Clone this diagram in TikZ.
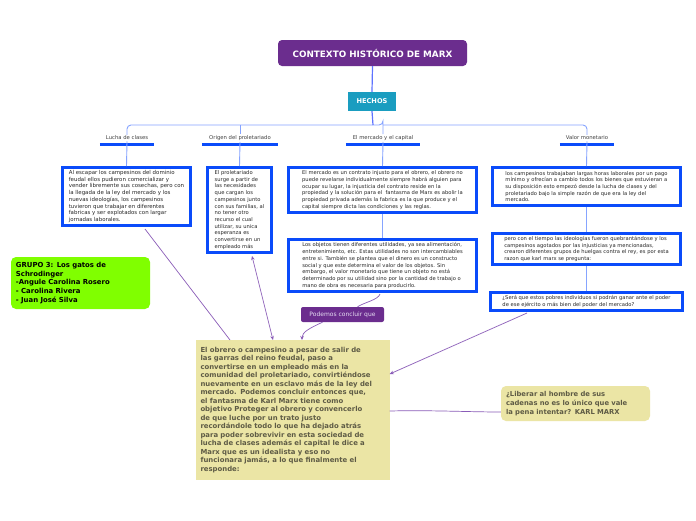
\documentclass[tikz,border=0pt]{standalone}
\usepackage{fontspec}
\setmainfont{DejaVu Sans}
\usetikzlibrary{arrows.meta}
\definecolor{tpurple}{HTML}{6B2D8E}
\definecolor{hteal}{HTML}{1A9DC0}
\definecolor{bblue}{HTML}{0A4BFA}
\definecolor{lblue}{HTML}{86A4FF}
\definecolor{ylw}{HTML}{EBE5A5}
\definecolor{grn}{HTML}{80FF00}
\definecolor{conn}{HTML}{8A5CB8}
\definecolor{btext}{HTML}{5E5B45}
\definecolor{ptext}{HTML}{E6DDF2}
\begin{document}
\begin{tikzpicture}[x=1pt,y=-1pt,
  textbox/.style={draw=bblue, line width=2.6pt, fill=white, align=left, text=black!85,
    font=\fontsize{5.2}{6.7}\selectfont, inner xsep=5pt, inner ysep=3pt, anchor=center},
  lbl/.style={font=\fontsize{5.3}{6}\selectfont, text=black!75, inner sep=1pt},
  uline/.style={bblue, line width=3pt},
  tree/.style={lblue, line width=0.9pt, rounded corners=4pt},
  cn/.style={conn, line width=0.7pt},
  tip/.style={-{Stealth[length=4pt,width=3.5pt]}},
  yel/.style={fill=ylw, text=btext, font=\bfseries\fontsize{6.9}{8.5}\selectfont, align=left}
]
\fill[white] (0,0) rectangle (696,520);
\useasboundingbox (0,0) rectangle (696,520);

% title and HECHOS
\node[fill=tpurple, rounded corners=4pt, minimum width=189pt, minimum height=26pt, text=white,
  font=\bfseries\fontsize{8.8}{10}\selectfont] (title) at (372.5,53) {CONTEXTO HISTÓRICO DE MARX};
\node[fill=hteal, minimum width=48pt, minimum height=19pt, text=white,
  font=\bfseries\fontsize{6.6}{8}\selectfont] (hechos) at (372,101.5) {HECHOS};
\draw[lblue!70!blue, line width=1.2pt] (title.south) -- (hechos.north);

% labels
\node[lbl, minimum width=54pt] (l1) at (127,138) {Lucha de clases};
\node[lbl, minimum width=76pt] (l2) at (240,138) {Origen del proletariado};
\node[lbl, minimum width=74pt] (l3) at (383,138) {El mercado y el capital};
\node[lbl, minimum width=54pt] (l4) at (587,138) {Valor monetario};
\foreach \n in {l1,l2,l3,l4}{\draw[uline] ([yshift=-3pt]\n.south west) -- ([yshift=-3pt]\n.south east);}

\draw[tree] (l1.north) |- (383,125) -| (l3.north);
\draw[tree] (383,125) -| (l4.north);
\draw[tree] (240,125) -- (l2.north);
\draw[lblue!70!blue, line width=1.2pt] (hechos.south) -- (373,125);

% boxes
\node[textbox, minimum width=128pt, minimum height=58pt, font=\fontsize{5.45}{6.7}\selectfont] (b1) at (126.5,196.5) {Al escapar los campesinos del dominio\\feudal ellos pudieron comercializar y\\vender libremente sus cosechas, pero con\\la llegada de la ley del mercado y los\\nuevas ideologías, los campesinos\\tuvieron que trabajar en diferentes\\fabricas y ser explotados con largar\\jornadas laborales.};
\node[textbox, minimum width=64pt, minimum height=85pt] (b2) at (239.5,210) {El proletariado\\surge a partir de\\las necesidades\\que cargan los\\campesinos junto\\con sus familias, al\\no tener otro\\recurso el cual\\utilizar, su unica\\esperanza es\\convertirse en un\\empleado más};
\node[textbox, minimum width=188pt, minimum height=45pt] (b3) at (382.5,190) {El mercado es un contrato injusto para el obrero, el obrero no\\puede revelarse individualmente siempre habrá alguien para\\ocupar su lugar, la injusticia del contrato reside en la\\propiedad y la solución para el \ fantasma de Marx es abolir la\\propiedad privada además la fabrica es la que produce y el\\capital siempre dicta las condiciones y las reglas.};
\node[textbox, minimum width=188pt, minimum height=52pt] (b4) at (382.5,265.5) {Los objetos tienen diferentes utilidades, ya sea alimentación,\\entretenimiento, etc. Estas utilidades no son intercambiables\\entre si. También se plantea que el dinero es un constructo\\social y que este determina el valor de los objetos. Sin\\embargo, el valor monetario que tiene un objeto no está\\determinado por su utilidad sino por la cantidad de trabajo o\\mano de obra es necesaria para producirlo.};
\node[textbox, minimum width=188pt, minimum height=38pt] (b5) at (586.5,186.5) {los campesinos trabajaban largas horas laborales por un pago\\mínimo y ofrecían a cambio todos los bienes que estuvieran a\\su disposición esto empezó desde la lucha de clases y del\\proletariado bajo la simple razón de que era la ley del\\mercado.};
\node[textbox, minimum width=188pt, minimum height=31pt] (b6) at (586.5,249) {pero con el tiempo las ideologías fueron quebrantándose y los\\campesinos agotados por las injusticias ya mencionadas,\\crearon diferentes grupos de huelgas contra el rey, es por esta\\razon que karl marx se pregunta:};
\node[textbox, minimum width=192pt, minimum height=18pt] (b7) at (586.5,301.5) {¿Será que estos pobres individuos si podrán ganar ante el poder\\de ese ejército o más bien del poder del mercado?};

\draw[tree] (l1.south) -- (b1.north);
\draw[tree] (l2.south) -- (b2.north);
\draw[tree] (l3.south) -- (b3.north);
\draw[tree] (b3.south) -- (b4.north);
\draw[tree] (l4.south) -- (b5.north);
\draw[tree] (b5.south) -- (b6.north);
\draw[tree] (b6.south) -- (b7.north);

% podemos
\node[fill=tpurple, rounded corners=2pt, minimum width=83pt, minimum height=15pt, text=ptext,
  font=\fontsize{6}{7}\selectfont, inner sep=1pt] (pod) at (342.5,314.5) {Podemos concluir que};

% big box
\node[yel, minimum width=193pt, minimum height=140pt, text width=184pt, inner xsep=5pt] (big) at (292.5,410) {El obrero o campesino a pesar de salir de\\las garras del reino feudal, paso a\\convertirse en un empleado más en la\\comunidad del proletariado, convirtiéndose\\nuevamente en un esclavo más de la ley del\\mercado. Podemos concluir entonces que,\\el fantasma de Karl Marx tiene como\\objetivo Proteger al obrero y convencerlo\\de que luche por un trato justo\\recordándole todo lo que ha dejado atrás\\para poder sobrevivir en esta sociedad de\\lucha de clases además el capital le dice a\\Marx que es un idealista y eso no\\funcionara jamás, a lo que finalmente el\\responde:};

% grupo
\node[fill=grn, rounded corners=5pt, minimum width=139pt, minimum height=52pt, align=left,
  font=\bfseries\fontsize{6.9}{8.6}\selectfont, text=black, text width=129pt, inner xsep=5pt] (grupo) at (80.5,283) {GRUPO 3: Los gatos de\\Schrodinger\\-Angule Carolina Rosero\\- Carolina Rivera\\- Juan José Silva};

% quote
\node[yel, rounded corners=5pt, minimum width=149pt, minimum height=35pt, text width=139pt, inner xsep=5pt,
  font=\bfseries\fontsize{6.8}{8.8}\selectfont] (quote) at (575.5,403.5) {¿Liberar al hombre de sus\\cadenas no es lo único que vale\\la pena intentar? KARL MARX};

% connectors
\coordinate (c1) at (145,229);
\coordinate (c1e) at (230,340);
\draw[cn] (c1) -- (c1e);
\draw[cn, {Stealth[length=4pt,width=3.5pt]}-{Stealth[length=4pt,width=3.5pt]}] (252,256) -- (273,340);
\draw[cn] (380,294) .. controls (378,300) and (365,302) .. ([xshift=15pt]pod.north);
\draw[cn, tip] ([xshift=-20pt]pod.south) .. controls (310,328) and (302,332) .. (302,340);
\draw[cn, tip] (527,313) -- (big.east |- 0,374);
\draw[cn] (big.east |- 0,411) .. controls (430,410) and (470,412) .. (quote.west |- 0,412);
\end{tikzpicture}
\end{document}
